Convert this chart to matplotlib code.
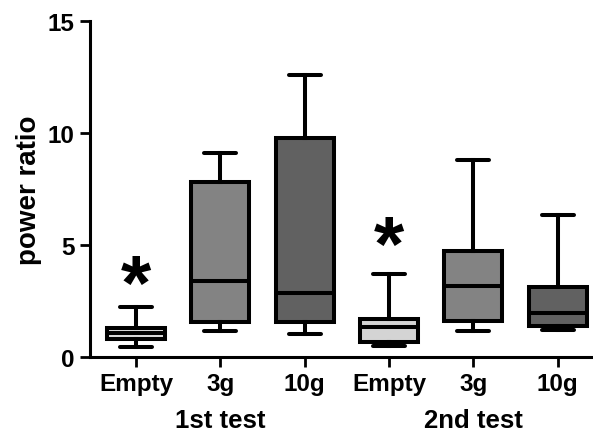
import matplotlib
matplotlib.use("Agg")
import matplotlib.pyplot as plt

plt.rcParams['font.family'] = ['Liberation Sans', 'DejaVu Sans']
plt.rcParams['font.weight'] = 'bold'

# box plot data
labels = ['Empty', '3g', '10g', 'Empty', '3g', '10g']
whislo = [0.45, 1.16, 1.03, 0.50, 1.16, 1.20]
q1 = [0.80, 1.56, 1.56, 0.67, 1.61, 1.38]
med = [1.07, 3.40, 2.86, 1.34, 3.17, 1.96]
q3 = [1.30, 7.80, 9.78, 1.70, 4.73, 3.12]
whishi = [2.23, 9.10, 12.6, 3.70, 8.80, 6.34]
fills = ['#dcdcdc', '#838383', '#616161', '#d4d4d4', '#838383', '#616161']
star_y = [3.84, None, None, 5.6, None, None]
groups = ['1st test', '2nd test']

stats = []
for i in range(len(labels)):
    stats.append({'whislo': whislo[i], 'q1': q1[i], 'med': med[i],
                  'q3': q3[i], 'whishi': whishi[i], 'fliers': []})

fig = plt.figure(figsize=(5.93, 4.35), dpi=100)
ax = fig.add_axes([0.152, 0.177, 0.848, 0.772])

pos = list(range(len(labels)))
lw = 2.9
bp = ax.bxp(stats, positions=pos, widths=0.69, patch_artist=True,
            showfliers=False,
            boxprops=dict(linewidth=lw, edgecolor='black'),
            medianprops=dict(linewidth=lw, color='black'),
            whiskerprops=dict(linewidth=lw, color='black'),
            capprops=dict(linewidth=lw, color='black', solid_capstyle='round'),
            capwidths=0.38)
for patch, c in zip(bp['boxes'], fills):
    patch.set_facecolor(c)

# asterisks: glyph sits high in its box, so shift down a bit
for p, s in zip(pos, star_y):
    if s is not None:
        ax.text(p, s - 0.78, '*', ha='center', va='center', fontsize=56,
                fontweight='bold')

ax.set_xlim(-0.545, 5.42)
ax.set_ylim(0, 15)
ax.set_yticks([0, 5, 10, 15])
ax.set_xticks(pos)
ax.set_xticklabels(labels)
ax.tick_params(axis='both', direction='out', length=7, width=2,
               labelsize=17.5, pad=4)
for sp in ['top', 'right']:
    ax.spines[sp].set_visible(False)
for sp in ['left', 'bottom']:
    ax.spines[sp].set_linewidth(2.2)
ax.set_ylabel('power ratio', fontsize=20, fontweight='bold', labelpad=4)

ax.text(1, -0.188, groups[0], transform=ax.get_xaxis_transform(),
        ha='center', va='center', fontsize=18.5, fontweight='bold')
ax.text(4, -0.188, groups[1], transform=ax.get_xaxis_transform(),
        ha='center', va='center', fontsize=18.5, fontweight='bold')

fig.savefig('out.png', dpi=100)
